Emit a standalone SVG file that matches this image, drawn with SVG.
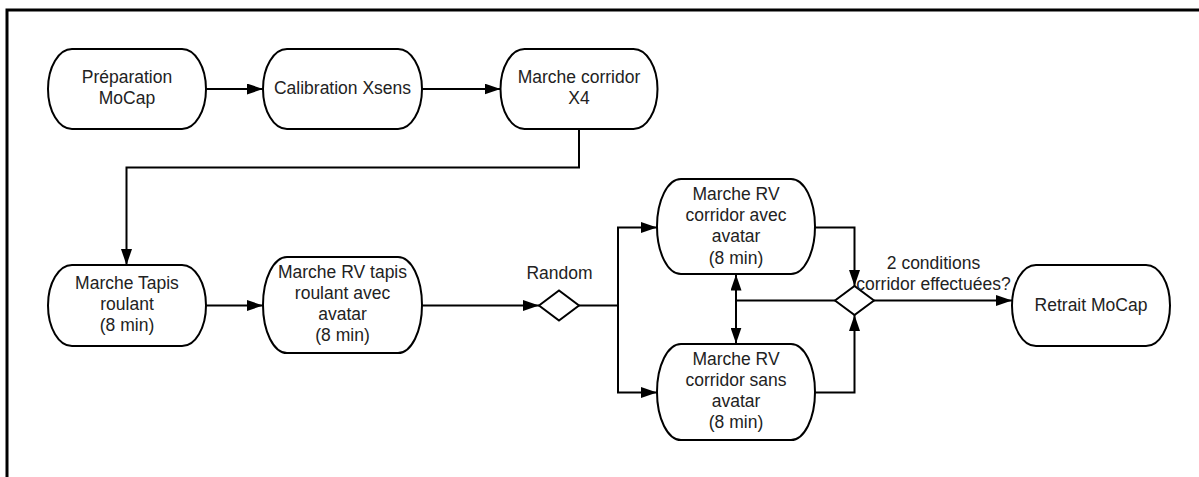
<svg xmlns="http://www.w3.org/2000/svg" width="1199" height="477" viewBox="0 0 1199 477">
<style>
.node{fill:#fff;stroke:#000;stroke-width:2}
.lbl{font-family:"Liberation Sans",Arial,sans-serif;font-size:17.5px;fill:#222;text-anchor:middle}
.conn{fill:none;stroke:#000;stroke-width:2}
</style>
<defs>
<marker id="arr" markerUnits="userSpaceOnUse" markerWidth="16" markerHeight="11" refX="16" refY="5.5" orient="auto-start-reverse" viewBox="0 0 16 11">
<path d="M0,0 L16,5.5 L0,11 Z" fill="#000"/>
</marker>
</defs>
<rect x="0" y="0" width="1199" height="477" fill="#fff"/>
<rect x="7" y="10" width="1300" height="600" fill="none" stroke="#000" stroke-width="3"/>

<g id="connectors">
<path class="conn" d="M206,89 H263" marker-end="url(#arr)"/>
<path class="conn" d="M422,89 H500.5" marker-end="url(#arr)"/>
<path class="conn" d="M579,129 V167.5 H126.5 V265" marker-end="url(#arr)"/>
<path class="conn" d="M206,305.5 H263" marker-end="url(#arr)"/>
<path class="conn" d="M422,305.5 H539" marker-end="url(#arr)"/>
<path class="conn" d="M579,305.5 H618 V227.5 H657" marker-end="url(#arr)"/>
<path class="conn" d="M618,305.5 V392.5 H657" marker-end="url(#arr)"/>
<path class="conn" d="M736,274.5 V343.5" marker-start="url(#arr)" marker-end="url(#arr)"/>
<path class="conn" d="M736,300.5 H835"/>
<path class="conn" d="M815,227.5 H854.5 V286" marker-end="url(#arr)"/>
<path class="conn" d="M815,392.5 H854.5 V315" marker-end="url(#arr)"/>
<path class="conn" d="M874,300.5 H1012" marker-end="url(#arr)"/>
</g>

<g id="prep">
<rect class="node" x="48" y="49" width="158" height="80" rx="24" ry="40"/>
<text class="lbl" x="127" y="82.5">Préparation</text>
<text class="lbl" x="127" y="103.5">MoCap</text>
</g>
<g id="calib">
<rect class="node" x="263" y="49" width="159" height="80" rx="24" ry="40"/>
<text class="lbl" x="342.5" y="94">Calibration Xsens</text>
</g>
<g id="corridorX4">
<rect class="node" x="500.5" y="49" width="157" height="80" rx="24" ry="40"/>
<text class="lbl" x="579" y="82.5">Marche corridor</text>
<text class="lbl" x="579" y="103.5">X4</text>
</g>
<g id="tapis">
<rect class="node" x="48" y="265" width="158" height="81" rx="24" ry="40.5"/>
<text class="lbl" x="127" y="288.5">Marche Tapis</text>
<text class="lbl" x="127" y="309.5">roulant</text>
<text class="lbl" x="127" y="330.5">(8 min)</text>
</g>
<g id="rvtapis">
<rect class="node" x="263" y="257" width="159" height="96" rx="24" ry="48"/>
<text class="lbl" x="342.5" y="277.5">Marche RV tapis</text>
<text class="lbl" x="342.5" y="298.7">roulant avec</text>
<text class="lbl" x="342.5" y="320">avatar</text>
<text class="lbl" x="342.5" y="341.2">(8 min)</text>
</g>
<g id="random">
<polygon class="node" points="539,305.5 559,290.5 579,305.5 559,320.5"/>
<text class="lbl" x="559.5" y="279">Random</text>
</g>
<g id="rvavec">
<rect class="node" x="657" y="179" width="158" height="95" rx="24" ry="47.5"/>
<text class="lbl" x="736" y="200">Marche RV</text>
<text class="lbl" x="736" y="221.2">corridor avec</text>
<text class="lbl" x="736" y="242.4">avatar</text>
<text class="lbl" x="736" y="263.6">(8 min)</text>
</g>
<g id="rvsans">
<rect class="node" x="657" y="344" width="158" height="96" rx="24" ry="48"/>
<text class="lbl" x="736" y="364.5">Marche RV</text>
<text class="lbl" x="736" y="385.7">corridor sans</text>
<text class="lbl" x="736" y="406.9">avatar</text>
<text class="lbl" x="736" y="428.1">(8 min)</text>
</g>
<g id="decision">
<polygon class="node" points="835,300.5 854.5,286 874,300.5 854.5,315"/>
<text class="lbl" x="933.5" y="269">2 conditions</text>
<text class="lbl" x="933.5" y="290">corridor effectuées?</text>
</g>
<g id="retrait">
<rect class="node" x="1012" y="265" width="158" height="81" rx="24" ry="40.5"/>
<text class="lbl" x="1091" y="310.5">Retrait MoCap</text>
</g>
</svg>
